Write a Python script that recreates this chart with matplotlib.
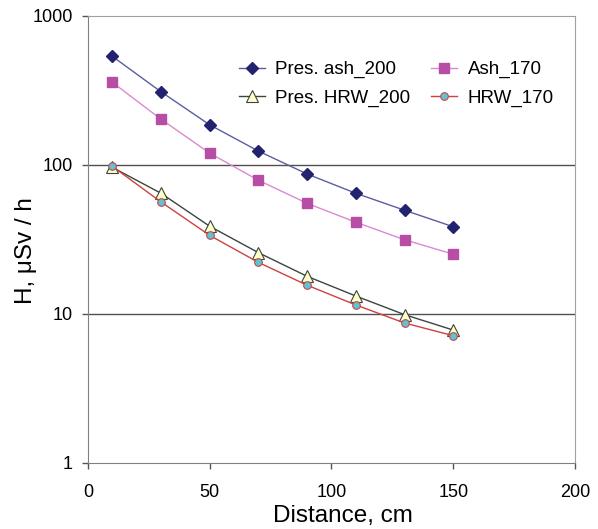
import matplotlib.pyplot as plt
from matplotlib.ticker import FixedLocator, FixedFormatter, NullLocator

plt.rcParams['font.family'] = ['Liberation Sans', 'DejaVu Sans']

# distancia en cm
distance = [10, 30, 50, 70, 90, 110, 130, 150]

# tasa de dosis, uSv/h
pres_ash_200 = [536, 310, 186, 124, 87, 64.6, 49.7, 38.5]
ash_170 = [359, 203, 120, 79, 55.3, 41.3, 31.5, 25.2]
pres_hrw_200 = [96.5, 64.6, 38.8, 25.8, 17.9, 13.2, 9.9, 7.8]
hrw_170 = [98, 56.5, 33.7, 22.2, 15.6, 11.5, 8.7, 7.15]

y_ticks = [1, 10, 100, 1000]
x_ticks = [0, 50, 100, 150, 200]

fig = plt.figure(figsize=(5.98, 5.29), dpi=100)
ax = fig.add_axes([0.147, 0.1248, 0.8145, 0.845])

ax.set_yscale('log')
ax.set_xlim(0, 200)
ax.set_ylim(1, 1000)

# lineas de la grilla (solo 10 y 100)
for g in [10, 100]:
    ax.axhline(g, color='#505050', lw=1.0, zorder=1)

ax.plot(distance, pres_ash_200, color='#5c5ca3', lw=1.0, marker='D', ms=6,
        mfc='#22226e', mec='#22226e', label='Pres. ash_200', zorder=3)
ax.plot(distance, pres_hrw_200, color='#3b463b', lw=1.0, marker='^', ms=8,
        mfc='#ffffcc', mec='#3b463b', mew=0.8, label='Pres. HRW_200', zorder=3)
ax.plot(distance, ash_170, color='#d98ad2', lw=1.0, marker='s', ms=7,
        mfc='#b84da6', mec='#b84da6', label='Ash_170', zorder=3)
ax.plot(distance, hrw_170, color='#d04040', lw=1.0, marker='o', ms=5.5,
        mfc='#5ec3d3', mec='#c84848', mew=0.8, label='HRW_170', zorder=3)

ax.yaxis.set_major_locator(FixedLocator(y_ticks))
ax.yaxis.set_major_formatter(FixedFormatter([str(t) for t in y_ticks]))
ax.yaxis.set_minor_locator(NullLocator())
ax.set_xticks(x_ticks)

ax.tick_params(axis='both', direction='out', length=4.5, width=1,
               color='#555555', labelsize=13)
ax.tick_params(axis='y', pad=6.5)
ax.tick_params(axis='x', pad=10.5)

for s in ['left', 'bottom']:
    ax.spines[s].set_color('#808080')
for s in ['top', 'right']:
    ax.spines[s].set_color('#a0a0a0')

ax.set_xlabel('Distance, cm', fontsize=17.5)
ax.xaxis.set_label_coords(0.523, -0.094)
ax.set_ylabel('H, μSv / h', fontsize=17.5)
ax.yaxis.set_label_coords(-0.104, 0.476)

ax.legend(ncol=2, loc='upper left', bbox_to_anchor=(0.275, 0.937), frameon=False,
          fontsize=13.5, handlelength=1.4, handletextpad=0.55, columnspacing=1.1,
          labelspacing=0.6)

plt.savefig('out.png', dpi=100)
